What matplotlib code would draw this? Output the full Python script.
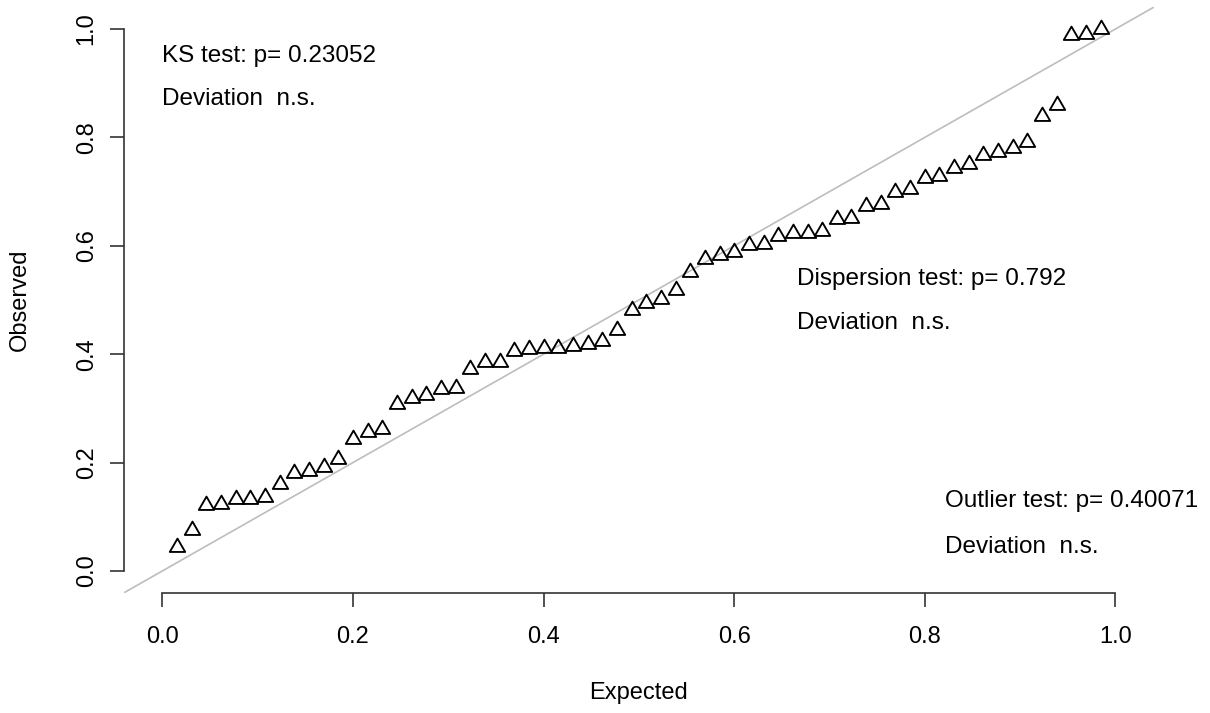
import numpy as np
import matplotlib
matplotlib.use("Agg")
import matplotlib.pyplot as plt
from matplotlib.path import Path

# ---- data ----
n_points = 64
observed = [0.044, 0.076, 0.121, 0.124, 0.132, 0.133, 0.136, 0.160, 0.181, 0.184,
            0.192, 0.207, 0.244, 0.256, 0.262, 0.308, 0.320, 0.324, 0.336, 0.337,
            0.372, 0.385, 0.385, 0.405, 0.409, 0.412, 0.412, 0.416, 0.419, 0.424,
            0.444, 0.481, 0.495, 0.502, 0.519, 0.551, 0.575, 0.583, 0.588, 0.601,
            0.604, 0.618, 0.624, 0.624, 0.627, 0.649, 0.651, 0.674, 0.677, 0.700,
            0.704, 0.725, 0.728, 0.744, 0.751, 0.768, 0.773, 0.780, 0.792, 0.840,
            0.860, 0.989, 0.991, 1.000]
expected = [(i + 1) / (n_points + 1) for i in range(n_points)]

tick_values = [0.0, 0.2, 0.4, 0.6, 0.8, 1.0]
tick_labels = ["0.0", "0.2", "0.4", "0.6", "0.8", "1.0"]

annotations = [
    (0.0, 0.9397, "KS test: p= 0.23052"),
    (0.0, 0.8598, "Deviation  n.s."),
    (0.666, 0.5277, "Dispersion test: p= 0.792"),
    (0.666, 0.446, "Deviation  n.s."),
    (0.821, 0.1175, "Outlier test: p= 0.40071"),
    (0.821, 0.0338, "Deviation  n.s."),
]

# ---- figure ----
W, H, DPI = 1210, 713, 100
plt.rcParams['font.family'] = ['Liberation Sans', 'DejaVu Sans']
fig = plt.figure(figsize=(W / DPI, H / DPI), dpi=DPI)
left_px, right_px, top_px, bottom_px = 124.1, 1153.6, 7.3, 592.7
ax = fig.add_axes([left_px / W, 1 - bottom_px / H,
                   (right_px - left_px) / W, (bottom_px - top_px) / H])
ax.set_xlim(-0.04, 1.04)
ax.set_ylim(-0.04, 1.04)

ax.axline((0, 0), slope=1, color='#bdbdbd', lw=1.2, zorder=1)

tri = Path([(0.0, 0.577), (-0.5, -0.289), (0.5, -0.289), (0.0, 0.577)],
           [Path.MOVETO, Path.LINETO, Path.LINETO, Path.CLOSEPOLY])
ax.plot(expected, observed, linestyle='none', marker=tri, markersize=12.8,
        markerfacecolor='none', markeredgecolor='black', markeredgewidth=1.35,
        zorder=3, clip_on=False)

fs_text = 17.5
fs = 17
for x, y, s in annotations:
    ax.text(x, y, s, ha='left', va='baseline', fontsize=fs_text, color='black')

for sp in ['top', 'right']:
    ax.spines[sp].set_visible(False)
ax.spines['left'].set_bounds(0, 1)
ax.spines['bottom'].set_bounds(0, 1)
for sp in ['left', 'bottom']:
    ax.spines[sp].set_linewidth(1.2)
    ax.spines[sp].set_color('#333333')

ax.set_xticks(tick_values)
ax.set_xticklabels(tick_labels)
ax.set_yticks(tick_values)
ax.set_yticklabels(tick_labels, rotation=90, va='center')
ax.tick_params(axis='both', direction='out', length=10, width=1.2,
               color='#333333', labelsize=fs)
ax.tick_params(axis='x', pad=14)
ax.tick_params(axis='y', pad=9)

fig.text((left_px + right_px) / 2 / W, 1 - 693 / H, "Expected",
         ha='center', va='center', fontsize=fs)
fig.text(20 / W, 1 - 300 / H, "Observed", ha='center', va='center',
         rotation=90, fontsize=fs)

fig.savefig("out.png", dpi=DPI)
